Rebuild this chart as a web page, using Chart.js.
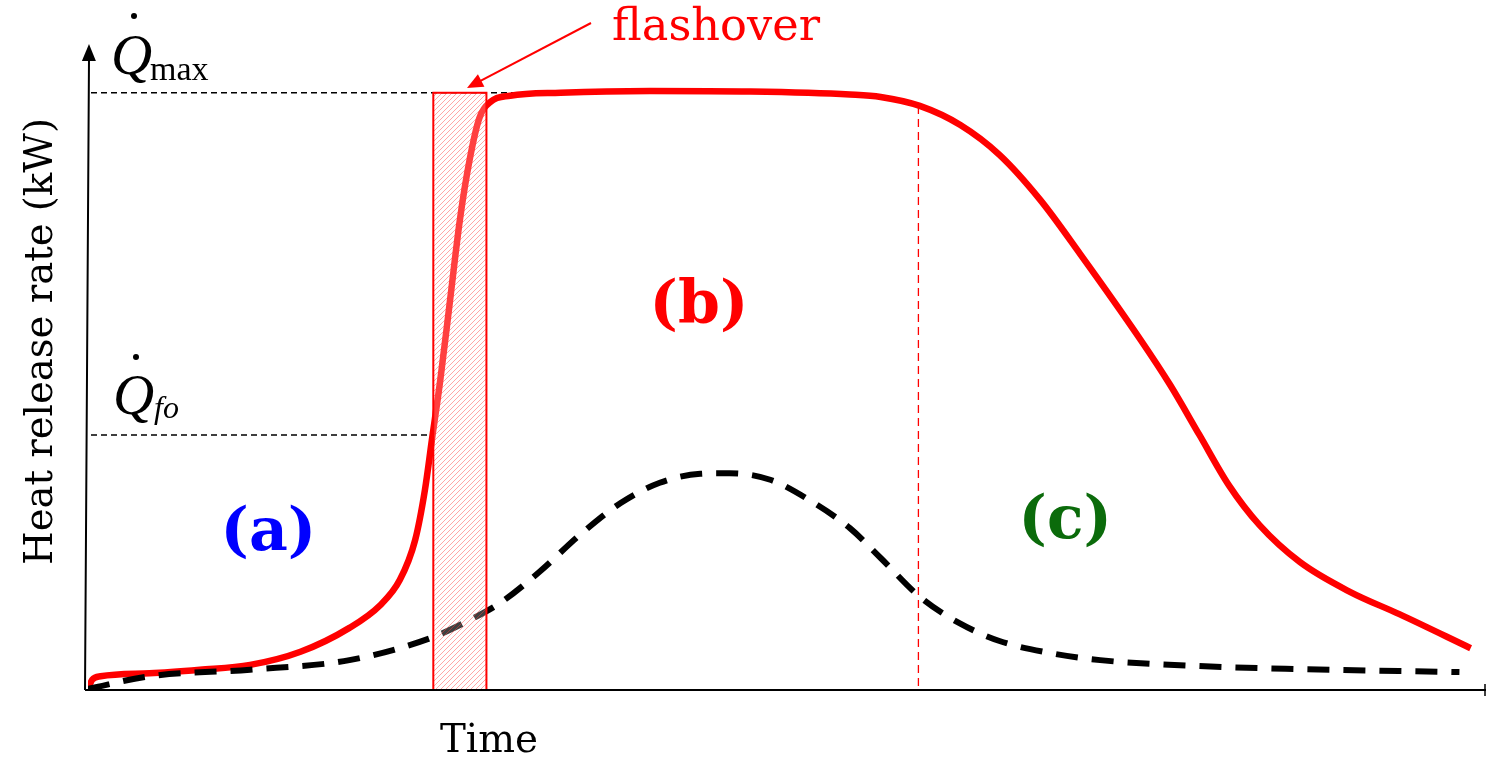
<!DOCTYPE html>
<html>
<head>
<meta charset="utf-8">
<script src="https://cdn.jsdelivr.net/npm/chart.js@4.4.1/dist/chart.umd.min.js"></script>
<style>
  html, body { margin: 0; padding: 0; background: #fff; }
  #wrap { width: 1486px; height: 758px; position: relative; }
</style>
</head>
<body>
<div id="wrap"><canvas id="hrrChart"></canvas></div>
<script>
// fully developed fire curve (solid red), time vs heat release rate
var fireTime = [0, 0.3, 0.9, 4.4, 8.0, 11.6, 15.2, 18.7, 20.9, 22.3, 23.4, 24.1, 24.6, 25.2, 25.9, 26.6, 27.3, 28.0, 28.8, 30.2, 33.8, 40.2, 47.4, 54.5, 56.7, 59.5, 62.4, 65.2, 68.1, 71.0, 75.3, 77.4, 79.5, 81.6, 83.8, 86.7, 90.3, 93.8, 98.9];
var fireHrr  = [0.2, 1.7, 2.3, 2.8, 3.4, 4.2, 6.4, 10.4, 14.2, 18.4, 25.1, 33.5, 41.9, 51.9, 65.3, 78.7, 88.8, 95.8, 98.5, 99.5, 100, 100.3, 100.2, 99.7, 99.3, 97.8, 94.6, 89.6, 82.1, 72.9, 58.6, 51.1, 42.7, 34.3, 27.6, 21.4, 16.4, 12.7, 7.0];

// fire that never reaches flashover (dashed black)
var smallTime = [0, 4.4, 11.6, 18.7, 24.5, 27.3, 29.5, 32.3, 35.2, 38.1, 40.9, 43.8, 45.9, 48.8, 51.6, 54.5, 56.7, 59.5, 62.4, 65.2, 68.8, 72.4, 79.5, 86.7, 98.1];
var smallHrr  = [0.2, 2.3, 3.4, 5.0, 8.7, 11.7, 14.6, 19.8, 26.0, 31.3, 34.7, 36.2, 36.3, 35.2, 31.8, 27.1, 22.1, 15.6, 11.1, 8.2, 6.2, 5.0, 4.0, 3.5, 3.0];

// reference levels and phase boundaries
var qMax = 100;
var qFo = 42.7;
var flashoverStart = 24.7;
var flashoverEnd = 28.5;
var decayStart = 59.4;
var decayStartHrr = 97.8;

// phase labels: [text, time, hrr, colour]
var phaseLabels = [
  ['(a)', 12.9, 26, '#0000ff'],
  ['(b)', 43.7, 64, '#ff0000'],
  ['(c)', 69.9, 28, '#0b6b0b']
];

function toPoints(xs, ys) {
  return xs.map(function (x, i) { return { x: x, y: ys[i] }; });
}

function hatchPattern(ctx) {
  var c = document.createElement('canvas');
  c.width = 5; c.height = 5;
  var p = c.getContext('2d');
  p.strokeStyle = 'rgba(255,60,60,0.45)';
  p.lineWidth = 1;
  p.beginPath();
  p.moveTo(0, 5); p.lineTo(5, 0);
  p.moveTo(-1, 1); p.lineTo(1, -1);
  p.moveTo(4, 6); p.lineTo(6, 4);
  p.stroke();
  return ctx.createPattern(c, 'repeat');
}

function arrowHead(ctx, x, y, angle, len, half) {
  ctx.save();
  ctx.translate(x, y);
  ctx.rotate(angle);
  ctx.beginPath();
  ctx.moveTo(0, 0);
  ctx.lineTo(-len, -half);
  ctx.lineTo(-len, half);
  ctx.closePath();
  ctx.fill();
  ctx.restore();
}

// draws text squeezed or stretched to a given width
function fitText(ctx, text, x, y, width) {
  var w = ctx.measureText(text).width;
  ctx.save();
  ctx.translate(x, y);
  ctx.scale(width / w, 1);
  ctx.textAlign = 'left';
  ctx.fillText(text, 0, 0);
  ctx.restore();
}

// axes, guide lines, flashover band and annotations
var annotate = {
  id: 'annotate',
  beforeDatasetsDraw: function (chart) {
    var ctx = chart.ctx, xs = chart.scales.x, ys = chart.scales.y;
    var x0 = xs.getPixelForValue(0), y0 = ys.getPixelForValue(0);
    ctx.save();
    // dashed reference levels
    ctx.strokeStyle = '#000';
    ctx.lineWidth = 1.3;
    ctx.setLineDash([6, 4]);
    ctx.beginPath();
    ctx.moveTo(x0 + 3, ys.getPixelForValue(qMax));
    ctx.lineTo(xs.getPixelForValue(35), ys.getPixelForValue(qMax));
    ctx.moveTo(x0 + 3, ys.getPixelForValue(qFo));
    ctx.lineTo(xs.getPixelForValue(flashoverStart), ys.getPixelForValue(qFo));
    ctx.stroke();
    // start of decay
    ctx.strokeStyle = '#ff0000';
    ctx.lineWidth = 1.3;
    ctx.setLineDash([8, 5]);
    ctx.beginPath();
    ctx.moveTo(xs.getPixelForValue(decayStart), ys.getPixelForValue(decayStartHrr));
    ctx.lineTo(xs.getPixelForValue(decayStart), y0);
    ctx.stroke();
    ctx.restore();
  },
  afterDatasetsDraw: function (chart) {
    var ctx = chart.ctx, xs = chart.scales.x, ys = chart.scales.y;
    var x0 = xs.getPixelForValue(0), y0 = ys.getPixelForValue(0);
    ctx.save();

    // flashover band
    var bx = xs.getPixelForValue(flashoverStart), bx2 = xs.getPixelForValue(flashoverEnd);
    var by = ys.getPixelForValue(qMax);
    ctx.fillStyle = 'rgba(255,255,255,0.25)';
    ctx.fillRect(bx, by, bx2 - bx, y0 - by);
    ctx.fillStyle = hatchPattern(ctx);
    ctx.fillRect(bx, by, bx2 - bx, y0 - by);
    ctx.strokeStyle = '#ff0000';
    ctx.lineWidth = 2;
    ctx.strokeRect(bx, by, bx2 - bx, y0 - by);

    // axes
    ctx.strokeStyle = '#000';
    ctx.fillStyle = '#000';
    ctx.lineWidth = 2;
    ctx.beginPath();
    ctx.moveTo(x0 - 3, y0);
    ctx.lineTo(x0 + 1, 58);
    ctx.moveTo(x0 - 3, y0);
    ctx.lineTo(chart.width, y0);
    ctx.stroke();
    arrowHead(ctx, x0 + 1, 44, -Math.PI / 2 + 0.006, 17, 7);
    ctx.lineWidth = 1.5;
    ctx.beginPath();
    ctx.moveTo(chart.width - 1, y0 - 6);
    ctx.lineTo(chart.width - 1, y0 + 6);
    ctx.stroke();

    // flashover pointer
    ctx.strokeStyle = '#ff0000';
    ctx.fillStyle = '#ff0000';
    ctx.lineWidth = 2;
    var tipX = 467, tipY = 88, fromX = 591, fromY = 23;
    var ang = Math.atan2(tipY - fromY, tipX - fromX);
    ctx.beginPath();
    ctx.moveTo(fromX, fromY);
    ctx.lineTo(tipX - 12 * Math.cos(ang), tipY - 12 * Math.sin(ang));
    ctx.stroke();
    arrowHead(ctx, tipX, tipY, ang, 16, 7);

    ctx.textBaseline = 'alphabetic';
    ctx.font = '44px "DejaVu Serif"';
    fitText(ctx, 'flashover', 612, 40, 208);

    // Q-dot labels
    ctx.fillStyle = '#000';
    ctx.textAlign = 'left';
    ctx.font = 'italic 57px "Liberation Serif"';
    ctx.fillText('Q', 111, 74);
    ctx.beginPath(); ctx.arc(134, 16, 3, 0, Math.PI * 2); ctx.fill();
    ctx.font = '34px "Liberation Serif"';
    ctx.fillText('max', 150, 80);

    ctx.font = 'italic 57px "Liberation Serif"';
    ctx.fillText('Q', 113, 414);
    ctx.beginPath(); ctx.arc(136, 357, 3, 0, Math.PI * 2); ctx.fill();
    ctx.font = 'italic 32px "Liberation Serif"';
    ctx.fillText('fo', 154, 418);

    // phase labels
    ctx.textAlign = 'center';
    ctx.textBaseline = 'middle';
    ctx.font = 'bold 60px "DejaVu Serif"';
    phaseLabels.forEach(function (l) {
      ctx.fillStyle = l[3];
      ctx.fillText(l[0], xs.getPixelForValue(l[1]), ys.getPixelForValue(l[2]));
    });

    // axis titles
    ctx.fillStyle = '#000';
    ctx.font = '40px "DejaVu Serif"';
    ctx.textBaseline = 'alphabetic';
    fitText(ctx, 'Time', 440, 752, 98);
    ctx.save();
    ctx.translate(52, 565);
    ctx.rotate(-Math.PI / 2);
    fitText(ctx, 'Heat release rate (kW)', 0, 0, 447);
    ctx.restore();

    ctx.restore();
  }
};

var ctx = document.getElementById('hrrChart').getContext('2d');
var myChart = new Chart(ctx, {
  type: 'line',
  data: {
    datasets: [
      {
        data: toPoints(smallTime, smallHrr),
        borderColor: '#000',
        borderWidth: 6,
        borderDash: [22, 14],
        pointRadius: 0,
        cubicInterpolationMode: 'monotone',
        fill: false
      },
      {
        data: toPoints(fireTime, fireHrr),
        borderColor: '#ff0000',
        borderWidth: 6.5,
        pointRadius: 0,
        cubicInterpolationMode: 'monotone',
        fill: false
      }
    ]
  },
  options: {
    responsive: true,
    maintainAspectRatio: false,
    animation: false,
    layout: { padding: { left: 88, right: 0, top: 42, bottom: 68 } },
    plugins: { legend: { display: false }, tooltip: { enabled: false } },
    scales: {
      x: { type: 'linear', min: 0, max: 100, display: false },
      y: { type: 'linear', min: 0, max: 108.5, display: false }
    }
  },
  plugins: [annotate]
});
</script>
</body>
</html>
